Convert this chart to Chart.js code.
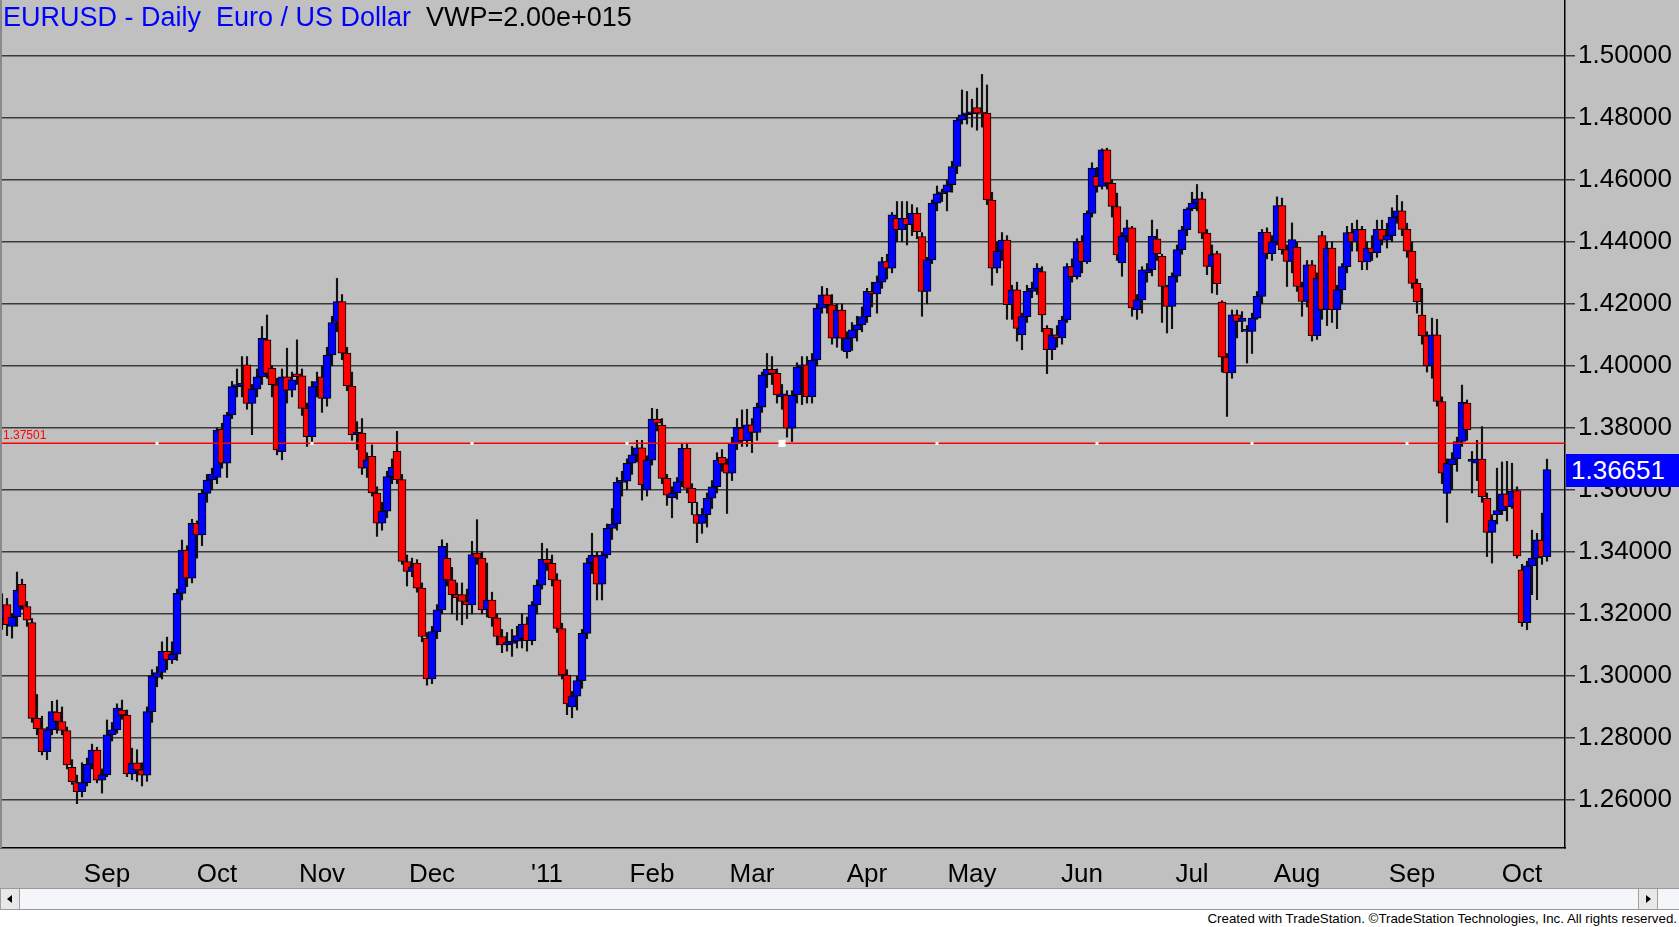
<!DOCTYPE html>
<html>
<head>
<meta charset="utf-8">
<title>EURUSD - Daily</title>
<script src="https://cdn.jsdelivr.net/npm/chart.js@4.4.0/dist/chart.umd.min.js"></script>
<style>
  html, body { margin: 0; padding: 0; background: #c0c0c0; overflow: hidden; }
  #wrap { position: relative; width: 1679px; height: 927px; background: #c0c0c0;
          font-family: "Liberation Sans", Arial, sans-serif; }
  #chart { position: absolute; left: 0; top: 0; }
  #title { position: absolute; left: 3px; top: 3px; font-size: 27px; line-height: 29px;
           white-space: pre; color: #0000ff; }
  #title span { color: #000; }
  #alertLabel { position: absolute; left: 3px; font-size: 12px; line-height: 12px; color: #ff0000; }
  #lastBox { position: absolute; left: 1566px; width: 113px; height: 33px; background: #0000ff;
             color: #fff; font-size: 26px; line-height: 33px; padding-left: 5px; box-sizing: border-box; }
  #scroll { position: absolute; left: 0; top: 888px; width: 1679px; height: 22px;
            background: #f4f6fa; border-top: 1px solid #9a9a9a; border-bottom: 1px solid #9a9a9a;
            box-sizing: border-box; }
  .btn { position: absolute; top: 0; width: 20px; height: 20px; background: #e8e8e8;
         border-left: 1px solid #a0a0a0; border-right: 1px solid #a0a0a0; box-sizing: border-box; }
  .arrowL { position: absolute; left: 6px; top: 6px; width: 0; height: 0;
            border-top: 4px solid transparent; border-bottom: 4px solid transparent; border-right: 5px solid #000; }
  .arrowR { position: absolute; left: 7px; top: 6px; width: 0; height: 0;
            border-top: 4px solid transparent; border-bottom: 4px solid transparent; border-left: 5px solid #000; }
  #footer { position: absolute; left: 0; top: 910px; width: 1679px; height: 17px; background: #ffffff;
            font-size: 13.3px; line-height: 17px; text-align: right; padding-right: 2px; box-sizing: border-box; color: #000; }
</style>
</head>
<body>
<div id="wrap">
  <canvas id="chart" width="1679" height="927"></canvas>
  <div id="title">EURUSD - Daily  Euro / US Dollar  <span>VWP=2.00e+015</span></div>
  <div id="alertLabel">1.37501</div>
  <div id="lastBox">1.36651</div>
  <div id="scroll">
    <div class="btn" style="left:0"><div class="arrowL"></div></div>
    <div class="btn" style="left:1638px"><div class="arrowR"></div></div>
  </div>
  <div id="footer">Created with TradeStation. &copy;TradeStation Technologies, Inc. All rights reserved.</div>
</div>
<script>
// daily bars, Aug 2 2010 .. Oct 10 2011 (bar index = trading day number)
const opens = [
  1.3090,1.3185,1.3230,1.3160,1.3190,1.3295,1.3224,1.3172,1.2863,1.2830,
  1.2756,1.2826,1.2883,1.2853,1.2824,1.2705,1.2656,1.2627,1.2656,1.2715,
  1.2761,1.2664,1.2681,1.2810,1.2826,1.2890,1.2874,1.2684,1.2720,1.2697,
  1.2680,1.2885,1.2995,1.3011,1.3079,1.3052,1.3070,1.3266,1.3406,1.3315,
  1.3492,1.3455,1.3589,1.3632,1.3640,1.3795,1.3686,1.3842,1.3933,1.3937,
  1.4003,1.3879,1.3925,1.3965,1.4084,1.3992,1.3939,1.3723,1.3965,1.3922,
  1.3974,1.3968,1.3863,1.3772,1.3933,1.3965,1.3895,1.4035,1.4140,1.4207,
  1.4041,1.3935,1.3778,1.3783,1.3670,1.3708,1.3590,1.3493,1.3531,1.3643,
  1.3724,1.3633,1.3369,1.3337,1.3364,1.3283,1.3122,1.2990,1.3143,1.3213,
  1.3380,1.3310,1.3262,1.3262,1.3240,1.3229,1.3396,1.3380,1.3213,1.3245,
  1.3187,1.3127,1.3100,1.3105,1.3112,1.3120,1.3167,1.3114,1.3229,1.3293,
  1.3376,1.3363,1.3310,1.3153,1.3003,1.2900,1.2935,1.2985,1.3137,1.3365,
  1.3385,1.3296,1.3390,1.3476,1.3490,1.3624,1.3628,1.3686,1.3713,1.3736,
  1.3600,1.3696,1.3828,1.3809,1.3637,1.3575,1.3590,1.3626,1.3734,1.3605,
  1.3520,1.3492,1.3520,1.3573,1.3610,1.3705,1.3684,1.3654,1.3750,1.3799,
  1.3759,1.3810,1.3785,1.3867,1.3971,1.3989,1.3976,1.3900,1.3906,1.3799,
  1.3906,1.3996,1.4003,1.3901,1.4019,1.4186,1.4229,1.4197,1.4089,1.4180,
  1.4046,1.4089,1.4116,1.4132,1.4159,1.4240,1.4232,1.4270,1.4336,1.4315,
  1.4476,1.4439,1.4476,1.4455,1.4492,1.4417,1.4240,1.4342,1.4525,1.4555,
  1.4560,1.4584,1.4643,1.4793,1.4810,1.4813,1.4833,1.4815,1.4815,1.4535,
  1.4315,1.4369,1.4406,1.4197,1.4245,1.4100,1.4159,1.4240,1.4250,1.4304,
  1.4121,1.4052,1.4100,1.4090,1.4148,1.4320,1.4288,1.4401,1.4336,1.4492,
  1.4611,1.4579,1.4697,1.4589,1.4514,1.4332,1.4418,1.4445,1.4181,1.4213,
  1.4300,1.4310,1.4410,1.4353,1.4256,1.4192,1.4289,1.4375,1.4439,1.4506,
  1.4525,1.4539,1.4428,1.4321,1.4362,1.4206,1.4028,1.3977,1.4165,1.4143,
  1.4111,1.4111,1.4154,1.4224,1.4431,1.4362,1.4400,1.4517,1.4375,1.4337,
  1.4383,1.4256,1.4208,1.4326,1.4097,1.4420,1.4181,1.4380,1.4181,1.4245,
  1.4320,1.4430,1.4400,1.4440,1.4335,1.4380,1.4365,1.4440,1.4405,1.4420,
  1.4480,1.4500,1.4440,1.4370,1.4266,1.4164,1.4097,1.4000,1.4100,1.3885,
  1.3589,1.3681,1.3700,1.3756,1.3880,1.3692,1.3686,1.3699,1.3573,1.3463,
  1.3520,1.3533,1.3587,1.3546,1.3598,1.3342,1.3172,1.3355,1.3380,1.3437,
  1.3385
];
const highs = [
  1.3200,1.3265,1.3250,1.3200,1.3335,1.3312,1.3240,1.3185,1.2940,1.2870,
  1.2835,1.2918,1.2922,1.2900,1.2835,1.2730,1.2680,1.2720,1.2735,1.2780,
  1.2770,1.2700,1.2858,1.2850,1.2910,1.2922,1.2890,1.2767,1.2762,1.2720,
  1.2900,1.3020,1.3030,1.3110,1.3125,1.3110,1.3280,1.3438,1.3420,1.3505,
  1.3500,1.3600,1.3650,1.3670,1.3800,1.3815,1.3850,1.3950,1.3990,1.4030,
  1.4030,1.3940,1.3990,1.4127,1.4164,1.4000,1.3960,1.3990,1.4057,1.3980,
  1.4084,1.3990,1.3880,1.3950,1.3980,1.4000,1.4060,1.4160,1.4282,1.4230,
  1.4060,1.3980,1.3820,1.3830,1.3720,1.3745,1.3610,1.3560,1.3660,1.3700,
  1.3789,1.3650,1.3390,1.3380,1.3375,1.3300,1.3140,1.3160,1.3230,1.3439,
  1.3428,1.3350,1.3300,1.3300,1.3280,1.3434,1.3504,1.3400,1.3364,1.3270,
  1.3200,1.3150,1.3140,1.3150,1.3160,1.3200,1.3190,1.3240,1.3310,1.3428,
  1.3410,1.3390,1.3330,1.3170,1.3020,1.2950,1.3000,1.3150,1.3380,1.3460,
  1.3400,1.3400,1.3490,1.3540,1.3640,1.3660,1.3700,1.3740,1.3760,1.3760,
  1.3710,1.3863,1.3860,1.3830,1.3650,1.3610,1.3640,1.3750,1.3750,1.3620,
  1.3560,1.3540,1.3590,1.3630,1.3720,1.3730,1.3700,1.3770,1.3830,1.3858,
  1.3860,1.3830,1.3880,1.3980,1.4040,1.4030,1.3990,1.3940,1.3920,1.3920,
  1.4010,1.4030,1.4030,1.4040,1.4200,1.4256,1.4250,1.4230,1.4200,1.4200,
  1.4110,1.4140,1.4160,1.4190,1.4250,1.4270,1.4290,1.4350,1.4360,1.4495,
  1.4530,1.4530,1.4530,1.4520,1.4510,1.4430,1.4350,1.4535,1.4580,1.4570,
  1.4600,1.4660,1.4800,1.4890,1.4885,1.4860,1.4896,1.4940,1.4906,1.4560,
  1.4400,1.4430,1.4420,1.4260,1.4270,1.4170,1.4260,1.4270,1.4330,1.4320,
  1.4130,1.4120,1.4130,1.4160,1.4330,1.4345,1.4410,1.4420,1.4500,1.4655,
  1.4640,1.4700,1.4702,1.4600,1.4557,1.4430,1.4470,1.4450,1.4230,1.4320,
  1.4330,1.4470,1.4440,1.4360,1.4260,1.4300,1.4390,1.4450,1.4510,1.4560,
  1.4585,1.4560,1.4440,1.4390,1.4370,1.4210,1.4040,1.4180,1.4180,1.4175,
  1.4130,1.4170,1.4240,1.4440,1.4445,1.4420,1.4545,1.4541,1.4390,1.4461,
  1.4400,1.4270,1.4340,1.4340,1.4300,1.4434,1.4400,1.4400,1.4260,1.4330,
  1.4450,1.4460,1.4470,1.4450,1.4400,1.4420,1.4470,1.4470,1.4460,1.4510,
  1.4550,1.4530,1.4460,1.4400,1.4280,1.4250,1.4110,1.4154,1.4150,1.3900,
  1.3700,1.3720,1.3770,1.3938,1.3890,1.3724,1.3760,1.3804,1.3590,1.3520,
  1.3670,1.3690,1.3692,1.3686,1.3610,1.3360,1.3370,1.3470,1.3460,1.3525,
  1.3699
];
const lows = [
  1.3080,1.3150,1.3130,1.3122,1.3160,1.3215,1.3160,1.2850,1.2810,1.2745,
  1.2730,1.2810,1.2815,1.2810,1.2700,1.2650,1.2588,1.2610,1.2645,1.2700,
  1.2655,1.2622,1.2675,1.2790,1.2815,1.2860,1.2675,1.2665,1.2660,1.2645,
  1.2660,1.2850,1.2965,1.2990,1.3020,1.3040,1.3050,1.3245,1.3288,1.3300,
  1.3380,1.3420,1.3560,1.3600,1.3620,1.3670,1.3640,1.3830,1.3900,1.3900,
  1.3860,1.3778,1.3900,1.3940,1.3960,1.3900,1.3713,1.3697,1.3880,1.3900,
  1.3940,1.3840,1.3740,1.3750,1.3900,1.3850,1.3870,1.4000,1.4110,1.4020,
  1.3920,1.3760,1.3730,1.3650,1.3640,1.3580,1.3450,1.3470,1.3510,1.3620,
  1.3620,1.3360,1.3290,1.3320,1.3270,1.3110,1.2970,1.2975,1.3120,1.3200,
  1.3290,1.3200,1.3180,1.3165,1.3185,1.3200,1.3360,1.3200,1.3190,1.3160,
  1.3100,1.3075,1.3080,1.3063,1.3090,1.3090,1.3080,1.3100,1.3200,1.3280,
  1.3340,1.3290,1.3140,1.2990,1.2875,1.2865,1.2890,1.2960,1.3120,1.3330,
  1.3245,1.3245,1.3380,1.3440,1.3470,1.3580,1.3600,1.3650,1.3690,1.3567,
  1.3580,1.3680,1.3790,1.3620,1.3550,1.3510,1.3570,1.3610,1.3590,1.3520,
  1.3430,1.3460,1.3480,1.3540,1.3590,1.3660,1.3524,1.3630,1.3730,1.3740,
  1.3740,1.3720,1.3760,1.3850,1.3930,1.3940,1.3880,1.3860,1.3770,1.3756,
  1.3880,1.3875,1.3880,1.3880,1.4000,1.4170,1.4170,1.4070,1.4060,1.4050,
  1.4025,1.4050,1.4080,1.4110,1.4140,1.4190,1.4170,1.4250,1.4280,1.4300,
  1.4400,1.4400,1.4390,1.4420,1.4410,1.4160,1.4200,1.4330,1.4500,1.4530,
  1.4500,1.4560,1.4620,1.4780,1.4780,1.4770,1.4760,1.4770,1.4520,1.4260,
  1.4300,1.4340,1.4150,1.4150,1.4080,1.4052,1.4140,1.4220,1.4230,1.4110,
  1.3975,1.4020,1.4060,1.4070,1.4140,1.4270,1.4280,1.4300,1.4330,1.4480,
  1.4560,1.4570,1.4570,1.4480,1.4340,1.4289,1.4400,1.4160,1.4150,1.4170,
  1.4270,1.4290,1.4340,1.4140,1.4106,1.4120,1.4270,1.4360,1.4420,1.4500,
  1.4500,1.4410,1.4294,1.4235,1.4230,1.3980,1.3837,1.3960,1.4090,1.4110,
  1.4009,1.4040,1.4150,1.4200,1.4345,1.4340,1.4390,1.4360,1.4256,1.4300,
  1.4240,1.4160,1.4190,1.4080,1.4085,1.4150,1.4130,1.4140,1.4120,1.4200,
  1.4300,1.4370,1.4370,1.4310,1.4310,1.4340,1.4350,1.4390,1.4380,1.4400,
  1.4460,1.4420,1.4350,1.4250,1.4170,1.4070,1.3980,1.3960,1.3870,1.3620,
  1.3495,1.3600,1.3660,1.3740,1.3760,1.3590,1.3630,1.3560,1.3385,1.3364,
  1.3490,1.3520,1.3500,1.3540,1.3380,1.3160,1.3149,1.3262,1.3246,1.3360,
  1.3370
];
const closes = [
  1.3185,1.3225,1.3165,1.3190,1.3277,1.3225,1.3180,1.2863,1.2830,1.2756,
  1.2826,1.2885,1.2853,1.2824,1.2713,1.2659,1.2627,1.2656,1.2715,1.2761,
  1.2664,1.2681,1.2810,1.2826,1.2896,1.2874,1.2684,1.2718,1.2697,1.2680,
  1.2885,1.3001,1.3011,1.3079,1.3052,1.3070,1.3266,1.3406,1.3315,1.3492,
  1.3455,1.3589,1.3632,1.3651,1.3793,1.3686,1.3842,1.3933,1.3937,1.3942,
  1.3879,1.3925,1.3965,1.4089,1.3976,1.3939,1.3729,1.3965,1.3922,1.3955,
  1.3965,1.3863,1.3772,1.3933,1.3949,1.3895,1.4035,1.4140,1.4207,1.4041,
  1.3935,1.3778,1.3786,1.3670,1.3697,1.3590,1.3493,1.3531,1.3643,1.3673,
  1.3633,1.3369,1.3337,1.3352,1.3283,1.3127,1.2990,1.3143,1.3213,1.3418,
  1.3310,1.3262,1.3252,1.3240,1.3229,1.3391,1.3380,1.3213,1.3245,1.3187,
  1.3127,1.3100,1.3108,1.3112,1.3130,1.3167,1.3114,1.3229,1.3293,1.3376,
  1.3363,1.3310,1.3153,1.3003,1.2910,1.2935,1.2985,1.3137,1.3365,1.3390,
  1.3296,1.3390,1.3476,1.3490,1.3624,1.3628,1.3686,1.3713,1.3736,1.3616,
  1.3696,1.3828,1.3815,1.3637,1.3583,1.3590,1.3626,1.3734,1.3605,1.3559,
  1.3492,1.3520,1.3573,1.3610,1.3696,1.3684,1.3654,1.3750,1.3802,1.3759,
  1.3810,1.3785,1.3867,1.3971,1.3989,1.3976,1.3906,1.3910,1.3799,1.3906,
  1.3996,1.4003,1.3901,1.4019,1.4186,1.4229,1.4197,1.4089,1.4180,1.4089,
  1.4089,1.4116,1.4132,1.4159,1.4240,1.4232,1.4270,1.4336,1.4315,1.4487,
  1.4439,1.4476,1.4455,1.4492,1.4433,1.4240,1.4342,1.4525,1.4555,1.4560,
  1.4584,1.4643,1.4793,1.4810,1.4813,1.4818,1.4815,1.4812,1.4535,1.4315,
  1.4369,1.4406,1.4197,1.4245,1.4121,1.4159,1.4240,1.4250,1.4315,1.4164,
  1.4052,1.4100,1.4090,1.4148,1.4320,1.4288,1.4401,1.4336,1.4492,1.4638,
  1.4579,1.4697,1.4589,1.4514,1.4358,1.4418,1.4445,1.4187,1.4213,1.4310,
  1.4310,1.4418,1.4362,1.4256,1.4192,1.4289,1.4375,1.4439,1.4506,1.4525,
  1.4539,1.4428,1.4321,1.4359,1.4265,1.4028,1.3977,1.4165,1.4143,1.4154,
  1.4115,1.4154,1.4224,1.4431,1.4362,1.4400,1.4517,1.4375,1.4337,1.4407,
  1.4256,1.4208,1.4326,1.4097,1.4283,1.4181,1.4380,1.4181,1.4245,1.4320,
  1.4430,1.4400,1.4440,1.4335,1.4380,1.4365,1.4440,1.4405,1.4420,1.4480,
  1.4500,1.4440,1.4370,1.4266,1.4207,1.4097,1.4000,1.4100,1.3885,1.3654,
  1.3686,1.3700,1.3756,1.3882,1.3794,1.3695,1.3699,1.3577,1.3463,1.3503,
  1.3533,1.3587,1.3546,1.3595,1.3387,1.3172,1.3355,1.3380,1.3439,1.3385,
  1.36651
];

// first trading day of each month -> axis label
const monthStarts = [22, 44, 65, 87, 110, 131, 151, 174, 195, 217, 239, 260, 283, 305];
const monthLabels = ['Sep', 'Oct', 'Nov', 'Dec', "'11", 'Feb', 'Mar', 'Apr', 'May', 'Jun', 'Jul', 'Aug', 'Sep', 'Oct'];
const priceTicks = [1.26, 1.28, 1.30, 1.32, 1.34, 1.36, 1.38, 1.40, 1.42, 1.44, 1.46, 1.48, 1.50];

const alertLevel = 1.37501;
const alertMarkBars = [32, 63, 95, 126, 157, 188, 220, 251, 282];
const lastPrice = 1.36651;

const upColor = '#0000ff';
const downColor = '#ff0000';

Chart.defaults.font.family = '"Liberation Sans", Arial, sans-serif';
Chart.defaults.font.size = 26;
Chart.defaults.color = '#000';

const bodyData = opens.map((o, i) => ({ x: i, y: [o, closes[i]] }));
const wickData = highs.map((h, i) => ({ x: i, y: [lows[i], h] }));

const decor = {
  id: 'decor',
  beforeDraw(chart) {
    const c = chart.ctx;
    c.save();
    c.fillStyle = '#c0c0c0';
    c.fillRect(0, 0, chart.width, chart.height);
    c.restore();
  },
  afterDatasetsDraw(chart) {
    const c = chart.ctx;
    const area = chart.chartArea;
    const y = chart.scales.y.getPixelForValue(alertLevel);
    c.save();
    c.beginPath();
    c.rect(area.left, area.top, area.right - area.left, area.bottom - area.top);
    c.clip();
    c.strokeStyle = '#ff0000';
    c.lineWidth = 1.5;
    c.beginPath();
    c.moveTo(area.left, y);
    c.lineTo(area.right, y);
    c.stroke();
    c.fillStyle = '#ffffff';
    alertMarkBars.forEach(b => {
      const x = chart.scales.x.getPixelForValue(b);
      const s = b === 157 ? 7 : 3;
      c.fillRect(x - s / 2, y - s / 2, s, s);
    });
    c.strokeStyle = '#8a8a8a';
    c.lineWidth = 2;
    c.beginPath();
    c.moveTo(area.left + 1, area.top);
    c.lineTo(area.left + 1, area.bottom);
    c.stroke();
    c.restore();
  }
};

const chart = new Chart(document.getElementById('chart'), {
  type: 'bar',
  data: {
    datasets: [{
      label: 'body',
      data: bodyData,
      order: 0,
      grouped: false,
      barThickness: 8,
      minBarLength: 2,
      backgroundColor: ctx => closes[ctx.dataIndex] >= opens[ctx.dataIndex] ? upColor : downColor,
      borderColor: '#000',
      borderWidth: 1,
      borderSkipped: false
    }, {
      label: 'wick',
      data: wickData,
      order: 1,
      grouped: false,
      barThickness: 1.5,
      backgroundColor: '#111',
      borderWidth: 0
    }]
  },
  options: {
    responsive: false,
    animation: false,
    events: [],
    layout: { padding: 0 },
    plugins: { legend: { display: false }, tooltip: { enabled: false }, title: { display: false } },
    scales: {
      x: {
        type: 'linear',
        offset: false,
        min: 0.6,
        max: 313.6,
        grid: { display: false, drawTicks: true, tickLength: 8 },
        border: { display: true, color: '#000', width: 1.5 },
        ticks: {
          autoSkip: false, maxRotation: 0, minRotation: 0, padding: 3,
          callback: v => monthLabels[monthStarts.indexOf(v)]
        },
        afterBuildTicks: axis => { axis.ticks = monthStarts.map(v => ({ value: v })); },
        afterFit: axis => { axis.height = 79; axis.paddingLeft = 0; axis.paddingRight = 0; }
      },
      y: {
        type: 'linear',
        position: 'right',
        min: 1.2445,
        max: 1.518,
        grid: { color: '#3a3a3a', lineWidth: 1.5, drawTicks: true, tickLength: 10 },
        border: { display: true, color: '#000', width: 1.5 },
        ticks: { padding: 3, callback: v => v.toFixed(5) },
        afterBuildTicks: axis => { axis.ticks = priceTicks.map(v => ({ value: v })); },
        afterFit: axis => { axis.width = 114; axis.paddingTop = 0; axis.paddingBottom = 0; }
      }
    }
  },
  plugins: [decor]
});

const yAlert = chart.scales.y.getPixelForValue(alertLevel);
document.getElementById('alertLabel').style.top = (yAlert - 14) + 'px';
const yLast = chart.scales.y.getPixelForValue(lastPrice);
document.getElementById('lastBox').style.top = (yLast - 16) + 'px';
</script>
</body>
</html>
